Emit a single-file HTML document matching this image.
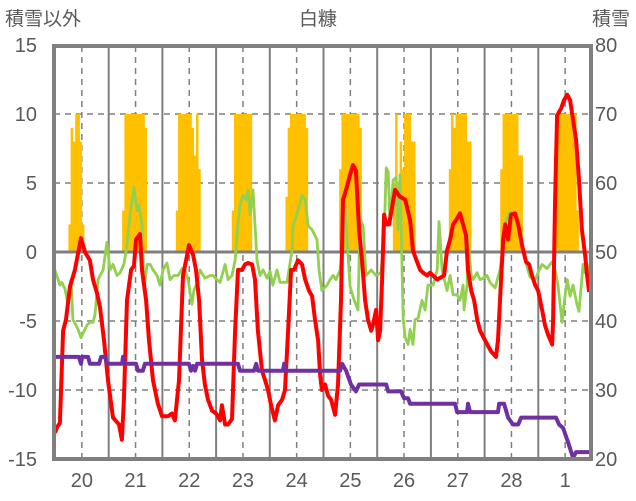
<!DOCTYPE html>
<html><head><meta charset="utf-8">
<style>
html,body{margin:0;padding:0;background:#fff;}
svg{display:block;font-family:"Liberation Sans","Noto Sans CJK JP",sans-serif;}
</style></head>
<body>
<svg id="chart" width="636" height="501" viewBox="0 0 636 501" xmlns="http://www.w3.org/2000/svg">
<defs><clipPath id="plotclip"><rect x="54" y="46" width="537" height="413"/></clipPath></defs>
<g id="grid"></g>
<g id="bars" clip-path="url(#plotclip)"></g>
<g id="zero"></g>
<g id="lines" clip-path="url(#plotclip)"></g>
<rect x="54" y="46" width="537" height="413" fill="none" stroke="#7f7f7f" stroke-width="4"/>
<text x="5" y="25" font-size="19" fill="#595959">積雪以外</text>
<text x="318" y="25" font-size="19" fill="#595959" text-anchor="middle">白糠</text>
<text x="630" y="25" font-size="19" fill="#595959" text-anchor="end">積雪</text>
<g id="ticks"></g>
</svg>
<script>
const leftTicks = [15, 10, 5, 0, -5, -10, -15];
const rightTicks = [80, 70, 60, 50, 40, 30, 20];
const dayLabels = ["20","21","22","23","24","25","26","27","28","1"];
const barDay20 = [0,0,0,0,0,0,2,9,8,10,10,8,2,0,0,0,0,0,0,0,0,0,0,0];
const barDay21 = [0,0,0,0,0,0,3,10,10,10,10,10,10,10,10,10,9,0,0,0,0,0,0,0];
const barDay22 = [0,0,0,0,0,0,3,10,10,10,10,10,10,9,7,10,6,0,0,0,0,0,0,0];
const barDay23 = [0,0,0,0,0,0,0,3,10,10,10,10,10,10,10,10,0,0,0,0,0,0,0,0];
const barDay24 = [0,0,0,0,0,0,0,4,9,10,10,10,10,10,10,10,9,0,0,0,0,0,0,0];
const barDay25 = [0,0,0,0,0,0,0,6,10,10,10,10,10,10,10,10,9,0,0,0,0,0,0,0];
const barDay26 = [0,0,0,0,0,0,0,5,10,5,8,6,10,10,10,8,8,0,0,0,0,0,0,0];
const barDay27 = [0,0,0,0,0,0,0,0,6,10,9,10,10,10,10,10,8,8,0,0,0,0,0,0];
const barDay28 = [0,0,0,0,0,0,0,6,10,10,10,10,10,10,10,7,7,0,0,0,0,0,0,0];
const barDay1  = [0,0,0,0,0,0,0,6,10,10,10,10,10,10,10,10,10,3,0,0,0,0,0,0];
const barDays = [barDay20,barDay21,barDay22,barDay23,barDay24,barDay25,barDay26,barDay27,barDay28,barDay1];
const redHours = [0,0.9,2.2,3.6,4.9,6.7,8.9,11.6,13.4,15.6,17,18.8,20.1,21.9,23.7,25.9,28.6,29.9,30.8,32.2,34,35.3,36.2,38,38.9,40.7,42,43.8,46,47.8,50.5,52.3,53.6,55.4,57.2,58.6,59.9,61.7,63,64.4,65.7,67,68.4,70.2,72,73.8,74.6,76,77.3,79.1,80.5,81.8,83.6,84.9,86.3,88.1,89.4,90.7,92.5,93.9,95.2,96.6,98.3,99.7,101.5,102.8,104.2,105.5,106.8,108.6,110.4,111.8,113.5,114.9,116.2,117.6,118.5,119.3,120.7,122,123.4,125.2,126.5,127.8,128.7,130.1,131.9,133.2,134.5,135.9,137.2,138.6,139.9,141.3,142.1,143.5,144.4,145.3,146.2,147.1,148,149.3,152,154.2,156.5,158.7,160,161.8,163.2,164.5,166.3,167.6,170.8,173.9,175.2,176.6,177.9,179.2,181,182.4,183.7,184.6,186,187.3,188.7,190,192.2,194.9,197.1,198,198.9,200.3,201.2,202.5,203.8,205.6,207,208.7,210.5,211.9,213.2,214.6,215.9,217.7,219,220.4,222.2,222.6,223.5,224.4,226.2,227.5,228.9,230.2,231.5,232.9,234.2,235.5,236.9,237.8,238.7];
const redValues = [-13.1,-12.7,-12.4,-5.7,-4.9,-2.5,-1.3,1.0,0,-0.6,-2,-3,-4,-6.4,-9.3,-12,-12.5,-13.6,-10.7,-3.5,-1.3,-1,0.9,1.3,-1.3,-3.5,-6.4,-9.3,-11,-11.9,-11.9,-11.7,-12.2,-9.3,-1.7,-0.6,0.5,-0.2,-1.3,-3.5,-7.8,-9.6,-10.7,-11.5,-11.7,-12.2,-11.1,-12.5,-12.5,-12.1,-5.7,-1.3,-1.3,-0.9,-0.8,-0.9,-2,-5.7,-8.6,-9.3,-10,-11.1,-12.2,-11.1,-10.7,-10,-5.7,-1.3,-1.3,-0.6,-0.9,-2,-2.8,-3.2,-4.9,-6.4,-8.9,-10,-9.6,-10.4,-10.7,-11.8,-9.6,-3.5,3.8,4.5,5.6,6.3,5.9,1.6,-0.6,-3.5,-4.9,-5.7,-5.3,-4.2,-6.4,-5.7,-2,2.7,2,2,4.5,4.0,3.8,2.3,0.1,-0.7,-1.3,-1.5,-1.7,-1.5,-2,-1.7,0.1,0.9,2,2.3,2.8,2,1.2,-1.3,-2.8,-3.5,-4.9,-5.7,-6.4,-7.2,-7.6,-6.4,-3.5,0.9,2,0.9,2.7,2.8,2,0.5,-0.7,-0.9,-1.7,-2.4,-2.8,-4.2,-5.3,-6,-6.7,-4.9,3.8,9.9,10.4,11,11.4,11,9.6,8.1,5.2,1.6,-0.2,-1.7,-2.9];
const greenHours = [-0.9,2.2,3.1,4.5,5.8,7.2,8,9.4,10.3,11.6,12.5,14.3,15.6,17,17.9,19.2,21.5,23.2,24.6,25.9,27.7,29.1,30.8,32.2,33.5,35.3,36.7,37.5,38.9,39.8,41.1,42.5,43.8,45.6,46.9,48.3,50,51.4,53.2,55,56.8,58.1,59.5,61.2,62.1,63.5,64.8,67,69.3,70.6,72.4,73.8,76,77.3,79.1,80.5,81.8,82.7,84,85.4,86.3,87.2,88.5,90.3,91.6,93,94.8,96.1,97.4,99.2,100.6,101.9,103.7,105.9,106.4,108.2,110.4,111.8,113.1,114.9,117.1,118,119.3,121.6,122.9,124.3,125.6,127.4,128.7,129.6,130.5,131.9,133.7,135.4,136.3,137.7,139,141.3,143.5,145.7,147.1,148,148.9,149.7,151.1,152.4,153.3,154.2,155.6,156.5,157.8,158.7,160,160.9,162.3,164,165.4,166.7,169,170.8,171.6,173,175.2,176.6,177.9,179.7,181,182.4,182.8,184.2,184.6,186,186.8,188.6,190,191.3,193.1,194.4,196.7,198.9,200.3,201.6,203.4,204.7,206.5,207.9,210.1,212.3,214.6,215.9,217.7,219.9,222.2,223.5,224.8,226.6,227.5,228.9,230.2,231.5,233.3,234.2,236,236.9,237.8,239.1];
const greenValues = [-0.9,-2.4,-2.2,-2.7,-3.8,-2,-4.9,-5.3,-5.6,-6.2,-5.9,-5.3,-5.1,-5.1,-4.5,-2,-1.3,0.7,-1.3,-0.9,-1.7,-1.5,-0.9,0.5,2.7,4.7,3,3.4,1.9,-2.8,-0.9,-0.9,-1.3,-1.7,-2.4,-1.3,-0.8,-2,-1.7,-1.7,-1.2,-1.3,-2,-3.8,-2.8,-2.2,-1.3,-1.9,-1.7,-1.7,-2,-2.2,-0.9,-2,-1.7,-0.6,2,3.4,4.1,3.8,4.5,2.7,4.5,-0.6,-1.7,-1.3,-1.9,-1.4,-2.4,-1.3,-2.2,-2.2,-2.2,0.1,1.9,2.8,4.1,3.8,1.9,1.6,0.9,-1.3,-2.8,-2.4,-2,-1.7,-2,-1.3,0.9,3.2,1,-2.5,-3.5,-4.2,2.4,1.9,-1.7,-1.3,-1.7,-1.5,0.9,6.1,5.8,2,5.2,5.4,1.6,5.6,-4.9,-6.2,-6.7,-5.6,-6.7,-4.9,-4.8,-3.5,-4.2,-2.4,-2.4,-1.3,2.2,-1.3,-2.8,-1.7,-3.1,-3.1,-3.5,-2.4,-4.2,-2.4,1.1,-1.7,-2,-1.5,-2,-1.9,-1.7,-2.2,-2.6,-1.3,0.5,2.2,2.9,2.7,2.8,0.9,-0.6,-1.8,-2,-1.5,-0.9,-1.2,-0.7,-1.3,-2.4,-5.1,-3.8,-2,-3.2,-2.4,-3.8,-4.3,-0.9,-1.5,-0.9,-1.4];
const snowHours = [-0.9,10.7,11.6,12.1,14.8,15.6,19.7,20.6,22.4,23.2,30,30.4,30.8,36.2,37.1,39.3,40.2,59.9,60.8,61.7,62.6,63.5,81.8,82.7,89,89.9,90.7,101.9,102.4,103.3,127.4,128.3,130.1,132.3,134.5,135.9,148,148.9,154.7,156,157.8,158.7,178.8,179.7,184.2,184.6,185.5,198,198.5,200.7,202.5,204.7,207,208.3,223.9,225.3,227.1,229.3,231.5,232.9,239.1];
const snowValues = [34.8,34.8,33.8,34.8,34.8,33.8,33.8,34.8,34.8,33.8,33.8,34.8,33.8,33.8,32.8,32.8,33.8,33.8,32.8,33.5,32.8,33.8,33.8,32.8,32.8,33.8,32.8,32.8,33.8,32.8,32.8,33.8,32.8,30.8,29.8,30.8,30.8,29.8,29.8,28.8,28.8,28,28,26.8,26.8,28,26.8,26.8,28,28,26,25,25,26,26,25,24.5,22.4,20.2,21,21];

const NS = "http://www.w3.org/2000/svg";
const X0 = 55, PX_PER_H = 53.7/24;
function xh(h){ return X0 + h*PX_PER_H; }
function yl(v){ return 252 - v*13.8; }
function yr(v){ return yl((v-50)/2); }
function mk(tag, attrs, parent){ const e=document.createElementNS(NS,tag); for(const k in attrs) e.setAttribute(k,attrs[k]); parent.appendChild(e); return e; }

const grid=document.getElementById('grid');
[10,5,-5,-10].forEach(v=>{
  const l=mk('line',{x1:54,x2:591,y1:yl(v),y2:yl(v),stroke:'#7f7f7f','stroke-width':1.5,'stroke-dasharray':'6,5'},grid);
  
  
});
for(let d=0; d<10; d++){
  if(d>0){
    const s=mk('line',{x1:xh(d*24),x2:xh(d*24),y1:46,y2:459,stroke:'#7f7f7f','stroke-width':2},grid);
    
    
  }
  const n=mk('line',{x1:xh(d*24+12),x2:xh(d*24+12),y1:46,y2:459,stroke:'#7f7f7f','stroke-width':1.5,'stroke-dasharray':'6,5'},grid);
  
  
}

const bars=document.getElementById('bars');
barDays.forEach((arr,d)=>{
  arr.forEach((v,k)=>{
    if(v<=0) return;
    const h=d*24+k;
    const r=mk('rect',{x:xh(h),y:yl(v),width:PX_PER_H+0.3,height:yl(0)-yl(v),fill:'#ffc000'},bars);
    
    
  });
});

const z=mk('line',{x1:54,x2:591,y1:yl(0),y2:yl(0),stroke:'#7f7f7f','stroke-width':3},document.getElementById('zero'));



const lines=document.getElementById('lines');
function poly(hs,vs,yf,color,w,name){
  const pts=hs.map((h,i)=>xh(h).toFixed(1)+','+yf(vs[i]).toFixed(1)).join(' ');
  const p=mk('polyline',{points:pts,fill:'none',stroke:color,'stroke-width':w,'stroke-linejoin':'round'},lines);
  
  
}
poly(greenHours,greenValues,yl,'#92d050',2.8,'green-series-line');
poly(redHours,redValues,yl,'#ff0000',4,'red-series-line');
poly(snowHours,snowValues,yr,'#7030a0',4,'snow-depth-line');

const ticks=document.getElementById('ticks');
leftTicks.forEach(v=>{
  const t=mk('text',{x:37,y:yl(v)+7,'font-size':20,fill:'#595959','text-anchor':'end'},ticks);
  t.textContent=String(v);
  
  
});
rightTicks.forEach(v=>{
  const t=mk('text',{x:595,y:yr(v)+7,'font-size':20,fill:'#595959'},ticks);
  t.textContent=String(v);
  
  
});
dayLabels.forEach((s,d)=>{
  const t=mk('text',{x:xh(d*24+12),y:487,'font-size':20,fill:'#595959','text-anchor':'middle'},ticks);
  t.textContent=s;
  
  
});
</script>
</body></html>
